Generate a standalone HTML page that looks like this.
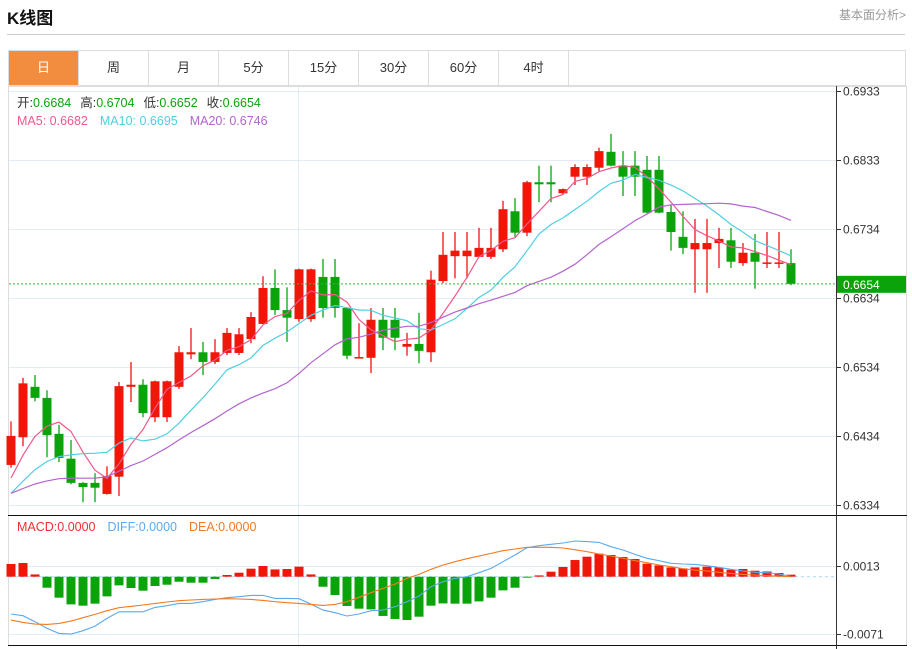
<!DOCTYPE html>
<html><head><meta charset="utf-8">
<style>
body{margin:0;width:912px;height:649px;background:#fff;font-family:"Liberation Sans","Noto Sans CJK SC",sans-serif;overflow:hidden;position:relative}
.title{position:absolute;left:7px;top:4px;font-size:17px;font-weight:bold;color:#111}
.more{position:absolute;right:6px;top:6px;font-size:12px;color:#999}
.hr{position:absolute;left:7px;top:34px;width:898px;height:1px;background:#ccc}
.tabs{position:absolute;left:8px;top:50px;width:898px;height:36px;border:1px solid #ddd;box-sizing:border-box;display:flex}
.tab{width:70px;height:34px;line-height:34px;text-align:center;font-size:13px;color:#333;border-right:1px solid #ddd;box-sizing:border-box}
.tab.on{background:#f28c3f;color:#fff}
svg{position:absolute;left:0;top:0}
</style></head><body>
<div class="title">K线图</div>
<div class="more">基本面分析&gt;</div>
<div class="hr"></div>
<div class="tabs">
<div class="tab on">日</div>
<div class="tab">周</div>
<div class="tab">月</div>
<div class="tab">5分</div>
<div class="tab">15分</div>
<div class="tab">30分</div>
<div class="tab">60分</div>
<div class="tab">4时</div>
</div>
<svg id="chart" width="912" height="649"></svg>
<script>
const opens=[.6392,.6432,.6505,.6489,.6437,.6401,.6366,.6366,.6350,.6375,.6505,.6508,.6461,.6461,.6505,.6552,.6555,.6541,.6554,.6554,.6574,.6596,.6648,.6616,.6603,.6603,.6664,.6664,.6619,.6547,.6547,.6602,.6602,.6563,.6567,.6555,.6658,.6694,.6694,.6693,.6693,.6704,.6759,.6728,.6801,.6801,.6785,.6809,.6809,.6822,.6845,.6825,.6825,.6819,.6819,.6758,.6722,.6704,.6704,.6713,.6717,.6684,.6699,.6683,.6683,.6684];
const highs=[.6455,.6518,.6522,.6500,.6450,.6428,.6367,.6380,.6390,.6512,.6541,.6516,.6514,.6514,.6564,.6590,.6570,.6574,.6590,.6590,.6613,.6665,.6675,.6649,.6676,.6676,.6690,.6690,.6620,.6597,.6619,.6619,.6619,.6583,.6612,.6673,.6729,.6729,.6729,.6735,.6735,.6774,.6778,.6803,.6825,.6825,.6792,.6827,.6827,.6851,.6871,.6846,.6846,.6839,.6839,.6768,.6759,.6748,.6748,.6735,.6735,.6713,.6726,.6729,.6729,.6704];
const lows=[.6388,.6419,.6484,.6403,.6396,.6364,.6338,.6338,.6349,.6347,.6483,.6461,.6454,.6454,.6502,.6545,.6522,.6538,.6551,.6551,.6568,.6596,.6609,.6570,.6599,.6599,.6605,.6605,.6545,.6546,.6525,.6558,.6558,.6550,.6539,.6541,.6655,.6662,.6662,.6692,.6690,.6700,.6722,.6723,.6772,.6772,.6784,.6797,.6797,.6817,.6824,.6781,.6781,.6756,.6756,.6702,.6697,.6641,.6641,.6677,.6677,.6680,.6647,.6677,.6677,.6652];
const closes=[.6434,.6510,.6489,.6435,.6402,.6366,.6360,.6359,.6376,.6506,.6508,.6467,.6513,.6513,.6555,.6555,.6541,.6555,.6583,.6581,.6606,.6648,.6616,.6605,.6675,.6675,.6619,.6619,.6550,.6548,.6602,.6576,.6576,.6567,.6557,.6660,.6696,.6702,.6702,.6706,.6706,.6762,.6728,.6801,.6798,.6798,.6791,.6823,.6823,.6846,.6825,.6809,.6809,.6757,.6757,.6729,.6706,.6713,.6713,.6719,.6686,.6699,.6686,.6685,.6685,.6654];
const prevCloses=[.6372,.6360,.6345,.6338,.6350,.6362,.6355,.6340,.6342,.6346,.6335,.6322,.6318,.6330,.6340,.6345,.6352,.6362,.6372];
const priceTicks=[0.6933,0.6833,0.6734,0.6634,0.6534,0.6434,0.6334];
const macdBars=[0.00157,0.00169,0.00028,-0.00136,-0.00259,-0.00342,-0.00358,-0.00333,-0.00243,-0.00107,-0.0014,-0.00173,-0.00115,-0.00099,-0.00062,-0.00074,-0.00074,-0.00028,0.00021,0.00049,0.00099,0.00132,0.0009,0.00095,0.00124,0.00028,-0.00124,-0.00226,-0.00362,-0.00395,-0.00404,-0.00485,-0.00522,-0.00535,-0.00494,-0.00358,-0.0033,-0.00333,-0.00333,-0.00305,-0.00259,-0.00169,-0.00136,-0.00012,0.00016,0.00062,0.0012,0.00206,0.00247,0.00284,0.00268,0.00243,0.00219,0.00161,0.0014,0.00115,0.00103,0.00115,0.00124,0.00115,0.00086,0.00095,0.00074,0.00065,0.00046,0.00025];
const diffVals=[-0.00461,-0.00482,-0.00556,-0.00639,-0.007,-0.00709,-0.00667,-0.0061,-0.00515,-0.00433,-0.00433,-0.00433,-0.00379,-0.00358,-0.0033,-0.0033,-0.00309,-0.0028,-0.0026,-0.00247,-0.00231,-0.00231,-0.00268,-0.00268,-0.00272,-0.00338,-0.00412,-0.00445,-0.00486,-0.00461,-0.0042,-0.00412,-0.00371,-0.00309,-0.00239,-0.00124,-0.00062,-0.00021,0,0.00049,0.00103,0.00185,0.00268,0.00358,0.00383,0.004,0.00416,0.00441,0.00433,0.00424,0.00371,0.0033,0.00276,0.00227,0.00198,0.00165,0.00157,0.00152,0.00136,0.00115,0.00091,0.0007,0.00054,0.00049,0.00033,0.00004];
const deaVals=[-0.00536,-0.00564,-0.00585,-0.00589,-0.00577,-0.00548,-0.00507,-0.00466,-0.0042,-0.00383,-0.00367,-0.0035,-0.0033,-0.00313,-0.00297,-0.00288,-0.0028,-0.00276,-0.00272,-0.00276,-0.0028,-0.00293,-0.00309,-0.00321,-0.0033,-0.00342,-0.00354,-0.00342,-0.00309,-0.00255,-0.00198,-0.00144,-0.00091,-0.00021,0.00029,0.00091,0.00144,0.00185,0.00222,0.00255,0.00288,0.00321,0.00342,0.00363,0.00363,0.00363,0.00354,0.00334,0.00309,0.0028,0.00255,0.00227,0.00198,0.00173,0.00144,0.00124,0.00099,0.00082,0.0007,0.00054,0.00041,0.00029,0.00021,0.00012,0.00008,0];
const macdTicks=[0.0013,-0.0071];

const NS='http://www.w3.org/2000/svg';
const svg=document.getElementById('chart');
function el(tag,attrs,parent){const e=document.createElementNS(NS,tag);for(const k in attrs)e.setAttribute(k,attrs[k]);(parent||svg).appendChild(e);return e;}
const RED='#f01608',GREEN='#0aa40a';
const xAt=i=>11+12*i;
const yP=p=>91+(0.6933-p)*(414/0.0599);
const yM=v=>576.7-v*8095;

// frame
let f=el('rect',{x:8.5,y:86.5,width:898,height:559,fill:'none',stroke:'#ddd'});


priceTicks.forEach((t,k)=>{const y=Math.round(yP(t))+0.5;
 const g=el('line',{x1:9,x2:836,y1:y,y2:y,stroke:'#e2ecf4'});
 
 
 el('line',{x1:836,x2:841,y1:y,y2:y,stroke:'#333'});
 const tx=el('text',{x:843,y:y+4,'font-size':12,fill:'#333'});tx.textContent=t.toFixed(4);
 
 
});
el('line',{x1:298.5,x2:298.5,y1:87,y2:645,stroke:'#e2ecf4'});
macdTicks.forEach(t=>{const y=Math.round(yM(t))+0.5;
 const g=el('line',{x1:9,x2:836,y1:y,y2:y,stroke:'#e2ecf4'});
 
 
 el('line',{x1:836,x2:841,y1:y,y2:y,stroke:'#333'});
 const tx=el('text',{x:843,y:y+4,'font-size':12,fill:'#333'});tx.textContent=t.toFixed(4);
 
 
});
el('line',{x1:8,x2:907,y1:515.5,y2:515.5,stroke:'#111'});
el('line',{x1:8,x2:907,y1:645.5,y2:645.5,stroke:'#111'});
el('line',{x1:836.5,x2:836.5,y1:86,y2:649,stroke:'#333'});

// candles
closes.forEach((c,i)=>{const o=opens[i],x=xAt(i),up=c>=o,col=up?RED:GREEN;
 const g=el('g',{});
 
 
 el('line',{x1:x,x2:x,y1:yP(highs[i]),y2:yP(lows[i]),stroke:col,'stroke-width':1.3},g);
 const t=yP(Math.max(o,c)),b=yP(Math.min(o,c));
 el('rect',{x:x-4.5,y:t,width:9,height:Math.max(b-t,1.5),fill:col},g);
});
// moving averages
const all=prevCloses.concat(closes);
function ma(n){return closes.map((_,i)=>{const j=i+prevCloses.length;let s=0;for(let k=j-n+1;k<=j;k++)s+=all[k];return s/n;});}
[[5,'#ee5a8a','ma5-line'],[10,'#4fcfe2','ma10-line'],[20,'#b464d0','ma20-line']].forEach(([n,col,name])=>{
 const pts=ma(n).map((v,i)=>xAt(i)+','+yP(v).toFixed(1)).join(' ');
 const l=el('polyline',{points:pts,fill:'none',stroke:col,'stroke-width':1.2});
 
 
});
// last price line
const lp=yP(closes[closes.length-1]);
const ll=el('line',{x1:9,x2:836,y1:lp,y2:lp,stroke:'#3bb53b','stroke-dasharray':'2,2'});


const lb=el('rect',{x:837,y:lp-8,width:69,height:17,fill:'#0aa40a'});


const lt=el('text',{x:843,y:lp+5,'font-size':12,fill:'#fff'});lt.textContent=closes[closes.length-1].toFixed(4);

// macd
const zl=el('line',{x1:9,x2:836,y1:yM(0),y2:yM(0),stroke:'#a8d8ef','stroke-dasharray':'3,3'});


macdBars.forEach((v,i)=>{const y0=yM(0),y1=yM(v);
 const r=el('rect',{x:xAt(i)-4.5,y:Math.min(y0,y1),width:9,height:Math.max(Math.abs(y1-y0),0.8),fill:v>=0?RED:GREEN});
 
 
});
[[diffVals,'#5aaaf0','diff-line'],[deaVals,'#f47a22','dea-line']].forEach(([arr,col,name])=>{
 const l=el('polyline',{points:arr.map((v,i)=>xAt(i)+','+yM(v).toFixed(1)).join(' '),fill:'none',stroke:col,'stroke-width':1.1});
 
 
});

// legends
function legend(y,items,name){const t=el('text',{x:17,y:y,'font-size':12.5});
 
 
 items.forEach(([s,c,dx])=>{const sp=el('tspan',{fill:c},t);if(dx)sp.setAttribute('dx',dx);sp.textContent=s;});}
legend(107,[['开:','#333'],['0.6684','#0aa40a'],['高:','#333',9],['0.6704','#0aa40a'],['低:','#333',9],['0.6652','#0aa40a'],['收:','#333',9],['0.6654','#0aa40a']],'ohlc-legend');
legend(125,[['MA5: 0.6682','#ee5a8a'],['MA10: 0.6695','#4fcfe2',12],['MA20: 0.6746','#b464d0',12]],'ma-legend');
legend(531,[['MACD:0.0000','#f03030'],['DIFF:0.0000','#5aaaf0',12],['DEA:0.0000','#f47a22',12]],'macd-legend');
</script>
</body></html>
